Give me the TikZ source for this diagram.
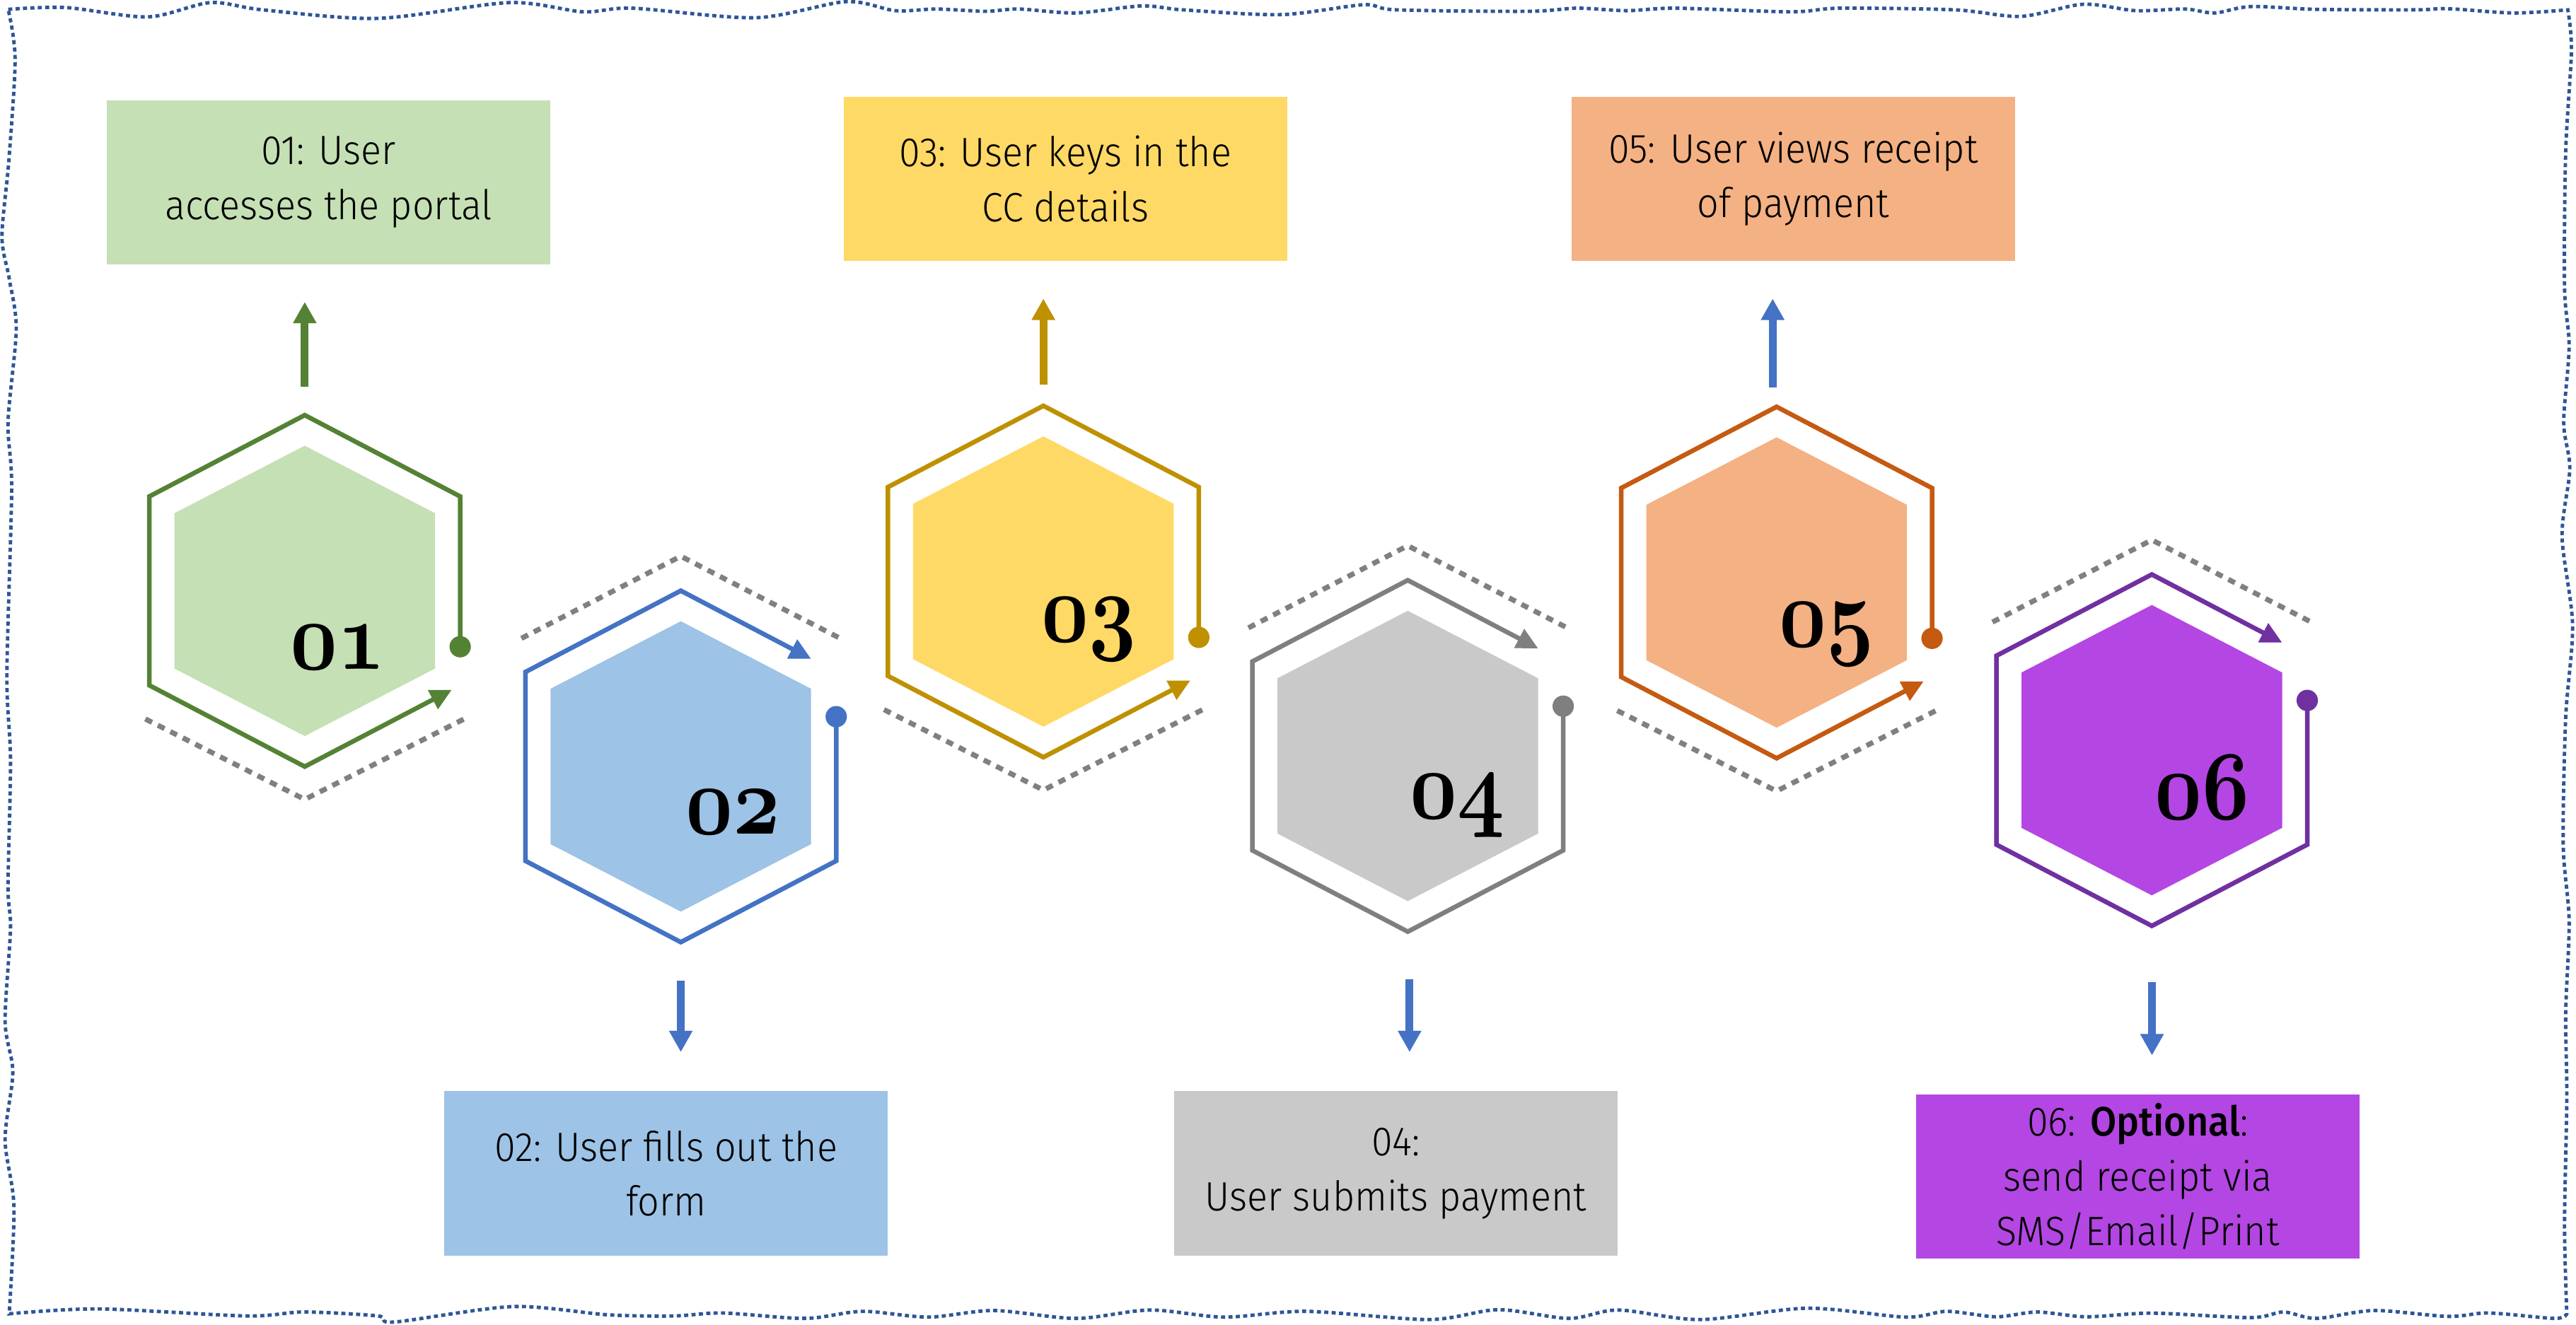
\documentclass[tikz,border=0pt]{standalone}
\usepackage{fix-cm}
\usepackage{fontspec}
\usetikzlibrary{arrows.meta}
\newfontfamily\notefont{Fira Sans}[UprightFont=* Light, BoldFont=* Medium, FakeStretch=0.93]

\definecolor{leafrim}{HTML}{548235}  \definecolor{leafcore}{HTML}{C5E0B4}
\definecolor{skyrim}{HTML}{4472C4}   \definecolor{skycore}{HTML}{9DC3E6}
\definecolor{goldrim}{HTML}{BF9000}  \definecolor{goldcore}{HTML}{FFD966}
\definecolor{stonerim}{HTML}{7F7F7F} \definecolor{stonecore}{HTML}{C9C9C9}
\definecolor{rustrim}{HTML}{C55A11}  \definecolor{rustcore}{HTML}{F4B183}
\definecolor{plumrim}{HTML}{7030A0}  \definecolor{plumcore}{HTML}{B446E3}
\definecolor{guidegray}{HTML}{808080}
\definecolor{frameblue}{HTML}{2F5597}

\begin{document}
\begin{tikzpicture}[x=0.2mm,y=-0.2mm,
  hexrim/.style={line width=0.56mm,-{Triangle[length=2.6mm,width=2.5mm]}},
  hexguide/.style={draw=guidegray,line width=0.62mm,dash pattern=on 0.9mm off 0.8mm},
  stepnote/.style={minimum width=54mm,minimum height=20mm,inner sep=0pt,align=center,
    font=\notefont\fontsize{14.2}{19}\selectfont},
  stepnum/.style={anchor=base,inner sep=0pt,xscale=0.84,font=\fontsize{34}{34}\usefont{OML}{cmm}{b}{it}},
  linkarrow/.style={line width=0.95mm,-{Triangle[length=2.6mm,width=2.7mm]}}]
  \useasboundingbox (0,0) rectangle (1568,806.4);

  % wavy frame
  \draw[frameblue,line width=0.42mm,dash pattern=on 0.5mm off 0.4mm]
    plot[smooth] coordinates {(5,5.7) (40,4.6) (90,10.3) (128,1.6) (160,6) (230,11.2) (310,1.6)
      (355,7.2) (385,5) (460,10.8) (515,1) (545,6.5) (570,5.5) (600,6.9) (620,5.5) (655,7.9)
      (695,3.6) (720,6) (780,8.9) (830,2.9) (850,6) (930,6.9) (960,5) (990,6.5) (1020,5)
      (1090,7.2) (1120,5) (1190,6) (1230,10) (1268,2.6) (1300,6.5) (1330,5.5) (1348,7.9)
      (1370,4) (1410,5.7) (1470,6) (1490,5.3) (1530,7.9) (1563,6)}
    -- plot[smooth] coordinates {(1563,6) (1565.2,30.9) (1561.7,92.6) (1561,174.9) (1563.8,210.9)
      (1560.5,257.2) (1564.2,285.5) (1559.5,326.6) (1565.9,380.6) (1561.7,437.2) (1560.2,514.3)
      (1563.8,560.7) (1561.7,617.2) (1562.4,668.6) (1561,745.9) (1562.4,800)}
    -- plot[smooth] coordinates {(1562.4,800) (1555,802.8) (1515,799.5) (1490,801.6) (1445,798)
      (1410,802.8) (1390,798.9) (1370,802.3) (1310,799.6) (1270,801.8) (1240,798.9) (1215,801.8)
      (1185,798.5) (1160,802) (1100,796.6) (1035,803.5) (985,797.7) (955,802.8) (912,797.5)
      (870,803.5) (795,798.5) (745,802) (700,797.7) (655,802.8) (605,798) (565,802) (525,798.5)
      (490,802.8) (440,799.5) (410,801.3) (370,800.6) (312,795.6) (240,805) (230,801.3)
      (185,798.9) (150,801.3) (60,797) (5.6,800)}
    -- plot[smooth] coordinates {(5.6,800) (8.5,735) (3.1,694) (7.8,653) (3.1,622) (6.4,565.5)
      (4.9,540) (6.4,463) (4.2,411) (7.1,298) (4.9,257) (9.9,200.5) (5.6,169.6) (1.2,144)
      (5.4,97.7) (9.2,36) (5,5.7)};

  % steps with the text above
  \foreach \n/\cx/\cy/\rim/\core/\dx/\dy in {01/185.5/359.8/leafrim/leafcore/20/47.5,
      03/635.1/354.1/goldrim/goldcore/27.6/36.7, 05/1081.4/354.7/rustrim/rustcore/30.4/39.1}
  {
    \begin{scope}[shift={(\cx,\cy)}]
      \fill[\core] (0,-88.4) -- (79.3,-47.3) -- (79.3,47.3) -- (0,88.4) -- (-79.3,47.3) -- (-79.3,-47.3) -- cycle;
      \draw[hexrim,\rim] (94.6,34) -- (94.6,-57.5) -- (0,-107) -- (-94.6,-57.5) -- (-94.6,57.5) -- (0,107) -- (89.5,60.2);
      \fill[\rim] (94.6,34) circle[radius=1.3mm];
      \draw[hexguide] (-97,78) -- (0,127) -- (97,78);
      \node[stepnum] (num\n) at (\dx,\dy) {\n};
    \end{scope}
  }

  % steps with the text below
  \foreach \n/\cx/\cy/\rim/\core/\dx/\dy in {02/414.4/466.7/skyrim/skycore/32/41,
      04/856.9/460.3/stonerim/stonecore/30/38, 06/1309.8/456.8/plumrim/plumcore/30.6/42}
  {
    \begin{scope}[shift={(\cx,\cy)}]
      \fill[\core] (0,-88.4) -- (79.3,-47.3) -- (79.3,47.3) -- (0,88.4) -- (-79.3,47.3) -- (-79.3,-47.3) -- cycle;
      \draw[hexrim,\rim] (94.6,-30.3) -- (94.6,57.5) -- (0,107) -- (-94.6,57.5) -- (-94.6,-57.5) -- (0,-107) -- (79.3,-65.5);
      \fill[\rim] (94.6,-30.3) circle[radius=1.3mm];
      \draw[hexguide] (-97,-78) -- (0,-128) -- (97,-78);
      \node[stepnum] (num\n) at (\dx,\dy) {\n};
    \end{scope}
  }

  \node[stepnote,fill=leafcore] (note01) at (200,111) {01: User\\accesses the portal};
  \node[stepnote,fill=goldcore] (note03) at (648.5,109) {03: User keys in the\\CC details};
  \node[stepnote,fill=rustcore] (note05) at (1091.5,109) {05: User views receipt\\of payment};
  \node[stepnote,fill=skycore] (note02) at (405.5,714.5) {02: User fills out the\\form};
  \node[stepnote,fill=stonecore] (note04) at (849.7,714.5) {04:\\User submits payment};
  \node[stepnote,fill=plumcore] (note06) at (1301.2,716.5) {06: \textbf{Optional}:\\send receipt via\\SMS/Email/Print};

  \coordinate (tail01) at (185.5,235.5);
  \coordinate (tail03) at (635.1,234);
  \coordinate (tail05) at (1079,235.8);
  \coordinate (tail02) at (414.4,597);
  \coordinate (tail04) at (858,596.2);
  \coordinate (tail06) at (1309.9,598.2);
  \draw[linkarrow,leafrim,shorten >=4.5mm] (tail01) -- (tail01 |- note01.south);
  \draw[linkarrow,goldrim,shorten >=4.5mm] (tail03) -- (tail03 |- note03.south);
  \draw[linkarrow,skyrim,shorten >=4.5mm] (tail05) -- (tail05 |- note05.south);
  \draw[linkarrow,skyrim,shorten >=4.7mm] (tail02) -- (tail02 |- note02.north);
  \draw[linkarrow,skyrim,shorten >=4.7mm] (tail04) -- (tail04 |- note04.north);
  \draw[linkarrow,skyrim,shorten >=4.7mm] (tail06) -- (tail06 |- note06.north);
\end{tikzpicture}
\end{document}
